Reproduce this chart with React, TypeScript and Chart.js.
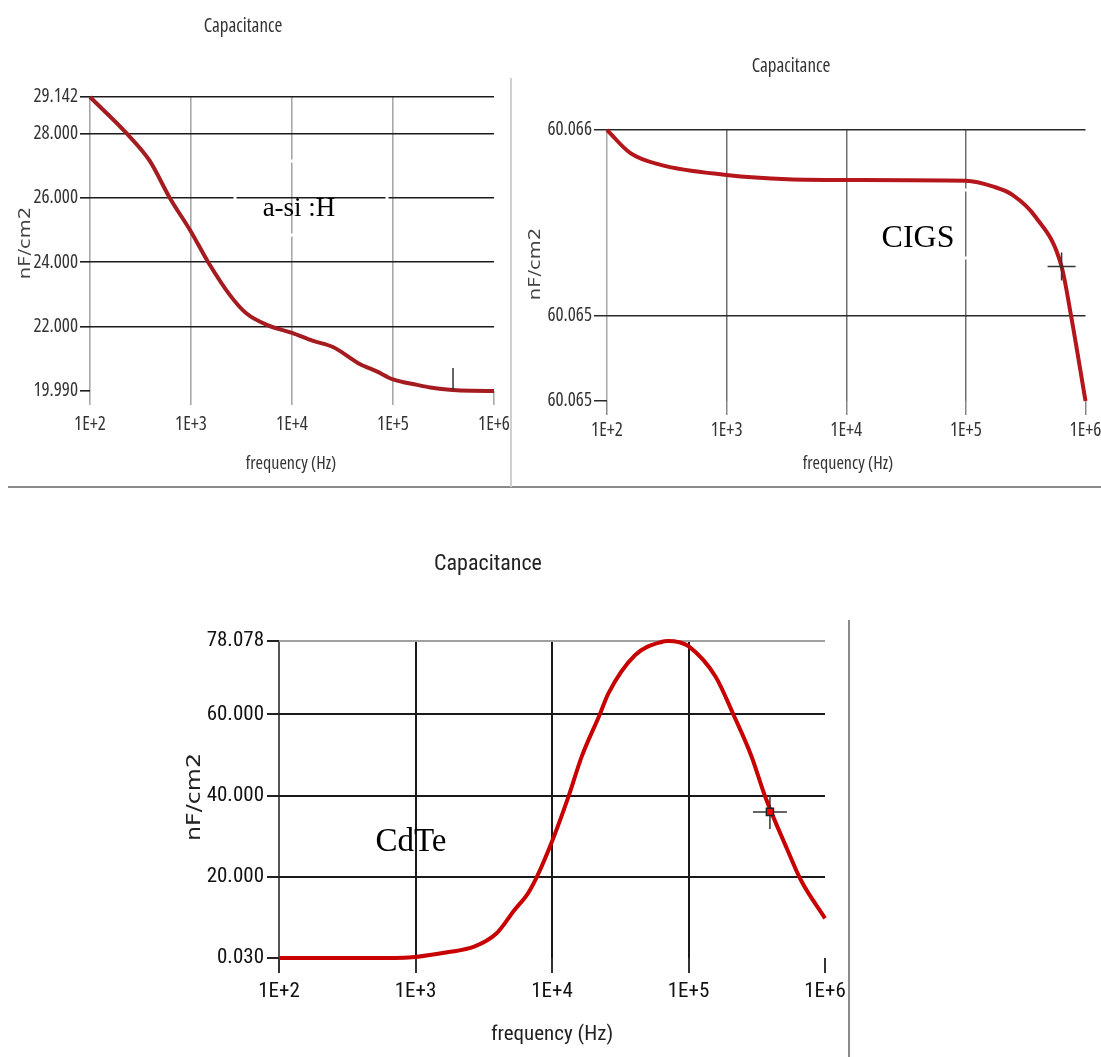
import React, { useEffect, useRef } from 'react';
import { Chart, registerables } from 'chart.js';

Chart.register(...registerables);

// ---------- shared axis data ----------
const xTickValues = [1e2, 1e3, 1e4, 1e5, 1e6];
const xTickLabels = ['1E+2', '1E+3', '1E+4', '1E+5', '1E+6'];

// ---------- a-Si:H ----------
const asiFreq = [100, 232, 389, 617, 1000, 1480, 2450, 3550, 5620, 10000, 16200, 25700, 46800, 69000, 100000, 174000, 234000, 363000, 600000, 1000000];
const asiCap = [29.142, 28.0, 27.16, 26.0, 24.95, 24.0, 22.96, 22.4, 22.05, 21.8, 21.55, 21.35, 20.83, 20.6, 20.35, 20.18, 20.1, 20.03, 19.995, 19.99];
const asiYTicks = [19.99, 22, 24, 26, 28, 29.142];
const asiYLabels = ['19.990', '22.000', '24.000', '26.000', '28.000', '29.142'];
const asiCursor = [{ x: 393000, y: 20.36 }];

// ---------- CIGS ----------
const cigsFreq = [100, 157, 281, 1000, 3240, 10000, 100000, 170000, 245000, 380000, 631000, 759000, 1000000];
const cigsCap = [60.066, 60.065875, 60.065812, 60.065758, 60.065735, 60.065731, 60.065727, 60.065695, 60.065651, 60.065534, 60.065265, 60.064996, 60.06454];
const cigsYTicks = [60.06454, 60.065, 60.066];
const cigsYLabels = ['60.065', '60.065', '60.066'];
const cigsCursor = [{ x: 631000, y: 60.065265 }];

// ---------- CdTe ----------
const cdteFreq = [100, 700, 1000, 1710, 2690, 3930, 5310, 6670, 7760, 10100, 13200, 16500, 22300, 25900, 40700, 64100, 70800, 85000, 100000, 158000, 214000, 290000, 363000, 531000, 665000, 1000000];
const cdteCap = [0.03, 0.03, 0.3, 1.44, 2.81, 6.11, 11.85, 15.96, 20.05, 29.08, 39.75, 49.6, 59.86, 65.2, 74.63, 77.9, 78.078, 77.8, 76.8, 69.29, 59.86, 49.6, 39.92, 26.63, 19.24, 9.8];
const cdteYTicks = [0.03, 20, 40, 60, 78.078];
const cdteYLabels = ['0.030', '20.000', '40.000', '60.000', '78.078'];
const cdteCursor = [{ x: 395000, y: 36.0 }];

const WIDE = "'DejaVu Sans', Verdana, sans-serif";
const SERIF = "'Liberation Serif', 'Times New Roman', serif";
const OPEN = "'Open Sans', sans-serif";
const ROBO = "Roboto, sans-serif";

type TextItem = {
  text: string; x: number; y: number; font: string; color: string;
  rotate?: boolean; stretch?: number;
};

function decorPlugin(texts: TextItem[], boxes: number[][]) {
  return {
    id: 'decor',
    afterDraw(chart: any) {
      const ctx = chart.ctx as CanvasRenderingContext2D;
      ctx.save();
      for (const b of boxes) {
        ctx.strokeStyle = '#ffffff';
        ctx.lineWidth = 3;
        ctx.strokeRect(b[0], b[1], b[2], b[3]);
      }
      for (const t of texts) {
        ctx.save();
        ctx.font = t.font;
        ctx.fillStyle = t.color;
        ctx.textAlign = 'center';
        ctx.textBaseline = t.rotate ? 'middle' : 'alphabetic';
        ctx.translate(t.x, t.y);
        if (t.rotate) ctx.rotate(-Math.PI / 2);
        if (t.stretch) ctx.scale(t.stretch, 1);
        ctx.fillText(t.text, 0, 0);
        ctx.restore();
      }
      ctx.restore();
    },
  };
}

type Spec = {
  left: number; top: number; width: number; height: number;
  padTop: number; padRight: number; yAxisWidth: number; xAxisHeight: number;
  freq: number[]; cap: number[]; cursor: { x: number; y: number }[];
  cursorStyle: 'cross' | 'line'; cursorRadius: number; cursorDot?: boolean;
  yMin: number; yMax: number; yTicks: number[]; yLabels: string[];
  lineColor: string; lineWidth: number;
  narrow: string;
  tickFont: number; tickColor: string;
  xTickLen: number; xTickPad: number; yTickLen: number; yTickPad: number;
  xGrid: (i: number) => string; xTickColor: string;
  yGrid: (i: number) => string; yTickColor: string;
  gridWidth: number;
  texts: TextItem[]; boxes: number[][];
};

function CapChart({ spec }: { spec: Spec }) {
  const ref = useRef<HTMLCanvasElement | null>(null);
  useEffect(() => {
    if (!ref.current) return;
    const s = spec;
    const datasets: any[] = [
      {
        data: s.cursor,
        showLine: false,
        pointStyle: s.cursorStyle,
        rotation: s.cursorStyle === 'line' ? 90 : 0,
        pointRadius: s.cursorRadius,
        borderColor: '#333333',
        borderWidth: 1.5,
        backgroundColor: 'transparent',
        order: 0,
      },
    ];
    if (s.cursorDot) {
      datasets.push({
        data: s.cursor,
        showLine: false,
        pointStyle: 'rect',
        pointRadius: 5,
        borderColor: '#222222',
        borderWidth: 1.5,
        backgroundColor: '#ff0000',
        order: -1,
      });
    }
    datasets.push({
      data: s.freq.map((f, i) => ({ x: f, y: s.cap[i] })),
      borderColor: s.lineColor,
      borderWidth: s.lineWidth,
      pointRadius: 0,
      cubicInterpolationMode: 'monotone',
      fill: false,
      clip: 8,
      order: 1,
    });
    // 'condensed' goes into the CSS font shorthand (font-stretch) via the weight slot
    const tickFont = { family: s.narrow, size: s.tickFont, weight: 'condensed' as any };

    const chart = new Chart(ref.current, {
      type: 'line',
      data: { datasets },
      options: {
        responsive: false,
        animation: false,
        events: [],
        layout: { padding: { top: s.padTop, right: s.padRight, left: 0, bottom: 0 } },
        plugins: {
          legend: { display: false },
          title: { display: false },
          tooltip: { enabled: false },
        },
        scales: {
          x: {
            type: 'logarithmic',
            min: 100,
            max: 1e6,
            afterBuildTicks: (sc: any) => { sc.ticks = xTickValues.map((v) => ({ value: v })); },
            afterFit: (sc: any) => { sc.height = s.xAxisHeight; sc.paddingLeft = 0; sc.paddingRight = 0; },
            border: { display: false },
            grid: {
              color: (c: any) => s.xGrid(c.index),
              tickColor: s.xTickColor,
              lineWidth: s.gridWidth,
              tickLength: s.xTickLen,
            },
            ticks: {
              autoSkip: false,
              maxRotation: 0,
              padding: s.xTickPad,
              color: s.tickColor,
              font: tickFont,
              callback: (_v: any, i: number) => xTickLabels[i],
            },
          },
          y: {
            type: 'linear',
            min: s.yMin,
            max: s.yMax,
            afterBuildTicks: (sc: any) => { sc.ticks = s.yTicks.map((v) => ({ value: v })); },
            afterFit: (sc: any) => { sc.width = s.yAxisWidth; sc.paddingTop = 0; sc.paddingBottom = 0; },
            border: { display: false },
            grid: {
              color: (c: any) => s.yGrid(c.index),
              tickColor: s.yTickColor,
              lineWidth: s.gridWidth,
              tickLength: s.yTickLen,
            },
            ticks: {
              autoSkip: false,
              padding: s.yTickPad,
              color: s.tickColor,
              font: tickFont,
              callback: (_v: any, i: number) => s.yLabels[i],
            },
          },
        },
      },
      plugins: [decorPlugin(s.texts, s.boxes)],
    } as any);
    return () => chart.destroy();
  }, [spec]);
  return (
    <canvas
      ref={ref}
      width={spec.width}
      height={spec.height}
      style={{ position: 'absolute', left: spec.left, top: spec.top, width: spec.width, height: spec.height }}
    />
  );
}

const asiSpec: Spec = {
  left: 0, top: 0, width: 510, height: 487,
  padTop: 97, padRight: 16, yAxisWidth: 90, xAxisHeight: 96,
  freq: asiFreq, cap: asiCap, cursor: asiCursor, cursorStyle: 'line', cursorRadius: 11,
  yMin: 19.99, yMax: 29.142, yTicks: asiYTicks, yLabels: asiYLabels,
  lineColor: '#a51c20', lineWidth: 4,
  narrow: OPEN,
  tickFont: 19, tickColor: '#333333',
  xTickLen: 14, xTickPad: 8, yTickLen: 10, yTickPad: 2,
  xGrid: (i) => (i === 4 ? 'rgba(0,0,0,0)' : '#a8a8a8'), xTickColor: '#a8a8a8',
  yGrid: (i) => (i === 0 ? 'rgba(0,0,0,0)' : '#1c1c1c'), yTickColor: '#1c1c1c',
  gridWidth: 1.6,
  texts: [
    { text: 'Capacitance', x: 243, y: 32, font: `condensed 19px ${OPEN}`, color: '#333333' },
    { text: 'frequency (Hz)', x: 291, y: 469, font: `condensed 18px ${OPEN}`, color: '#333333' },
    { text: 'nF/cm2', x: 26, y: 243, font: `15px ${WIDE}`, color: '#444444', rotate: true, stretch: 1.3 },
    { text: 'a-si :H', x: 299, y: 216, font: `27px ${SERIF}`, color: '#000000' },
  ],
  boxes: [[235, 161, 152, 74]],
};

const cigsSpec: Spec = {
  left: 512, top: 40, width: 589, height: 447,
  padTop: 90, padRight: 13, yAxisWidth: 95, xAxisHeight: 86,
  freq: cigsFreq, cap: cigsCap, cursor: cigsCursor, cursorStyle: 'cross', cursorRadius: 14,
  yMin: 60.06454, yMax: 60.066, yTicks: cigsYTicks, yLabels: cigsYLabels,
  lineColor: '#b5161c', lineWidth: 4,
  narrow: OPEN,
  tickFont: 19, tickColor: '#333333',
  xTickLen: 14, xTickPad: 4, yTickLen: 13, yTickPad: 2,
  xGrid: (i) => (i === 4 ? 'rgba(0,0,0,0)' : i === 0 ? '#a8a8a8' : '#6e6e6e'), xTickColor: '#888888',
  yGrid: (i) => (i === 0 ? 'rgba(0,0,0,0)' : '#2a2a2a'), yTickColor: '#2a2a2a',
  gridWidth: 1.5,
  texts: [
    { text: 'Capacitance', x: 279, y: 32, font: `condensed 19px ${OPEN}`, color: '#333333' },
    { text: 'frequency (Hz)', x: 336, y: 429, font: `condensed 18px ${OPEN}`, color: '#333333' },
    { text: 'nF/cm2', x: 24, y: 224, font: `15px ${WIDE}`, color: '#444444', rotate: true, stretch: 1.3 },
    { text: 'CIGS', x: 406, y: 207, font: `32px ${SERIF}`, color: '#000000' },
  ],
  boxes: [[346, 150, 122, 68]],
};

const cdteSpec: Spec = {
  left: 170, top: 540, width: 678, height: 517,
  padTop: 101, padRight: 23, yAxisWidth: 109, xAxisHeight: 99,
  freq: cdteFreq, cap: cdteCap, cursor: cdteCursor, cursorStyle: 'cross', cursorRadius: 17, cursorDot: true,
  yMin: 0.03, yMax: 78.078, yTicks: cdteYTicks, yLabels: cdteYLabels,
  lineColor: '#c80000', lineWidth: 4,
  narrow: ROBO,
  tickFont: 21, tickColor: '#111111',
  xTickLen: 15, xTickPad: 6, yTickLen: 12, yTickPad: 3,
  xGrid: (i) => (i === 4 ? 'rgba(0,0,0,0)' : i === 0 ? '#555555' : '#1a1a1a'), xTickColor: '#333333',
  yGrid: (i) => (i === 0 ? 'rgba(0,0,0,0)' : i === 4 ? '#a0a0a0' : '#1a1a1a'), yTickColor: '#222222',
  gridWidth: 2,
  texts: [
    { text: 'Capacitance', x: 318, y: 30, font: `condensed 22px ${ROBO}`, color: '#222222' },
    { text: 'frequency (Hz)', x: 382, y: 500, font: `condensed 21px ${ROBO}`, color: '#222222' },
    { text: 'nF/cm2', x: 25, y: 257, font: `19px ${WIDE}`, color: '#222222', rotate: true, stretch: 1.25 },
    { text: 'CdTe', x: 241, y: 311, font: `33px ${SERIF}`, color: '#000000' },
  ],
  boxes: [],
};

export default function App() {
  return (
    <div style={{ position: 'absolute', left: 0, top: 0, width: 1101, height: 1057, overflow: 'hidden', background: '#ffffff' }}>
      <div style={{ position: 'absolute', left: 8, top: 486, width: 1093, height: 2, background: '#8a8a8a' }} />
      <div style={{ position: 'absolute', left: 510, top: 78, width: 2, height: 409, background: '#cfcfcf' }} />
      <div style={{ position: 'absolute', left: 848, top: 620, width: 2, height: 437, background: '#8a8a8a' }} />
      <CapChart spec={asiSpec} />
      <CapChart spec={cigsSpec} />
      <CapChart spec={cdteSpec} />
    </div>
  );
}
